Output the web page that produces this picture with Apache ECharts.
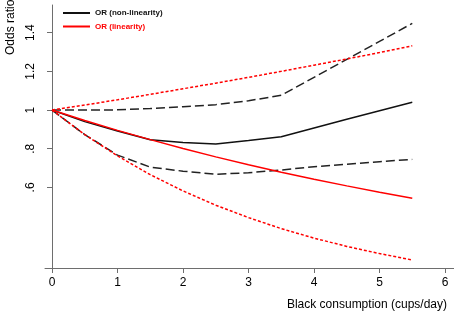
<!DOCTYPE html>
<html>
<head>
<meta charset="utf-8">
<script src="https://cdn.jsdelivr.net/npm/echarts@6/dist/echarts.min.js"></script>
<style>
  html, body { margin: 0; padding: 0; background: #fff; }
  #chart { width: 454px; height: 314px; }
</style>
</head>
<body>
<div id="chart"></div>
<script>
// cups/day
var cups = [0, 0.5, 1, 1.5, 2, 2.5, 3, 3.5, 4, 4.5, 5, 5.5]
// non-linear model (black)
var orNonLin = [1, 0.94, 0.892, 0.846, 0.832, 0.825, 0.842, 0.862, 0.907, 0.952, 0.996, 1.04]
var ciNonLinUp = [1, 1, 1.001, 1.008, 1.017, 1.028, 1.048, 1.076, 1.169, 1.262, 1.355, 1.448]
var ciNonLinLo = [1, 0.873, 0.767, 0.705, 0.684, 0.668, 0.676, 0.69, 0.707, 0.72, 0.733, 0.745]
// linear model (red)
var orLin = [1, 0.946, 0.895, 0.847, 0.801, 0.758, 0.717, 0.679, 0.642, 0.608, 0.575, 0.544]
var ciLinUp = [1, 1.026, 1.053, 1.081, 1.11, 1.139, 1.169, 1.2, 1.232, 1.264, 1.297, 1.332]
var ciLinLo = [1, 0.873, 0.763, 0.666, 0.582, 0.508, 0.444, 0.387, 0.338, 0.295, 0.258, 0.225]

var xTicks = [0, 1, 2, 3, 4, 5, 6]
var yTicks = [0.6, 0.8, 1, 1.2, 1.4]

function pairs(ys) {
  return cups.map(function(x, i) { return [x, ys[i]] })
}

function line(name, ys, color, dash) {
  return {
    name: name,
    type: 'line',
    symbol: 'none',
    silent: true,
    data: pairs(ys),
    lineStyle: { color: color, width: 1.5, type: dash || 'solid' },
    itemStyle: { color: color }
  }
}

var chart = echarts.init(document.getElementById('chart'))
var axisColor = '#6e6e6e'
var font = 'Arial, "Liberation Sans", sans-serif'

chart.setOption({
  animation: false,
  grid: { left: 45, right: 0, top: 5, bottom: 46 },
  legend: {
    orient: 'vertical',
    left: 63,
    top: 9,
    padding: 0,
    icon: 'rect',
    itemWidth: 27,
    itemHeight: 2,
    itemGap: 5.5,
    data: [
      { name: 'OR (non-linearity)', textStyle: { color: '#111' } },
      { name: 'OR (linearity)', textStyle: { color: '#ff0000' } }
    ],
    textStyle: { fontSize: 8, fontWeight: 'bold', fontFamily: font }
  },
  xAxis: {
    type: 'value',
    min: -0.107,
    max: 6.137,
    splitLine: { show: false },
    axisLine: { lineStyle: { color: axisColor } },
    axisTick: { length: 5, lineStyle: { color: axisColor }, customValues: xTicks },
    axisLabel: {
      customValues: xTicks,
      margin: 9,
      color: '#000',
      fontSize: 12,
      fontFamily: font
    }
  },
  yAxis: {
    type: 'value',
    min: 0.1835,
    max: 1.543,
    splitLine: { show: false },
    axisLine: { show: true, lineStyle: { color: axisColor } },
    axisTick: { show: true, length: 5, lineStyle: { color: axisColor }, customValues: yTicks },
    axisLabel: {
      customValues: yTicks,
      rotate: 90,
      margin: 8,
      color: '#000',
      fontSize: 12,
      fontFamily: font,
      formatter: function(v) {
        return String(Math.round(v * 10) / 10).replace(/^0\./, '.')
      }
    }
  },
  graphic: [
    {
      type: 'text',
      x: 5,
      y: 55,
      rotation: Math.PI / 2,
      style: { text: 'Odds ratio', fontSize: 12, fontFamily: font, fill: '#000' }
    },
    {
      type: 'text',
      right: 7,
      top: 299,
      style: { text: 'Black consumption (cups/day)', fontSize: 12, fontFamily: font, fill: '#000' }
    }
  ],
  series: [
    line('OR (non-linearity)', orNonLin, '#111'),
    line('ci-nl-up', ciNonLinUp, '#222', [9, 4]),
    line('ci-nl-lo', ciNonLinLo, '#222', [9, 4]),
    line('OR (linearity)', orLin, '#ff0000'),
    line('ci-l-up', ciLinUp, '#ff0000', [3, 2]),
    line('ci-l-lo', ciLinLo, '#ff0000', [3, 2])
  ]
})
</script>
</body>
</html>
